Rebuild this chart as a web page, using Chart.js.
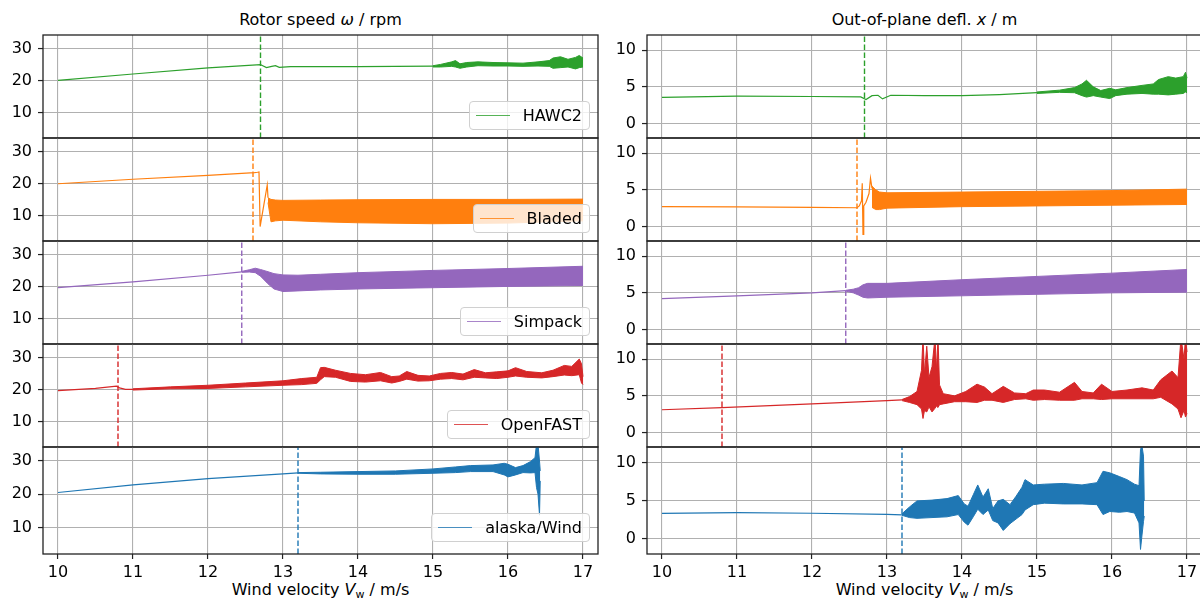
<!DOCTYPE html>
<html>
<head>
<meta charset="utf-8">
<script src="https://cdn.jsdelivr.net/npm/chart.js@4.4.1/dist/chart.umd.min.js"></script>
<style>
  html, body { margin: 0; padding: 0; background: #fff; width: 1200px; height: 603px; overflow: hidden; }
  body { position: relative; font-family: 'DejaVu Sans', sans-serif; color: #000; }
  canvas { position: absolute; }
  .lbl { position: absolute; font-size: 16px; line-height: 1; white-space: nowrap; transform: translate(-50%, -50%); }
  .lbl sub { font-size: 11px; vertical-align: -3px; line-height: 0; }
  .leg { position: absolute; right: 610px; height: 29px; box-sizing: border-box; padding: 0 7px 0 6px;
         border: 1px solid #d0d0d0; border-radius: 4px; background: rgba(255,255,255,0.8);
         font-size: 16px; display: flex; align-items: center; white-space: nowrap; }
  .leg .ln { display: inline-block; width: 34px; height: 0; border-top: 1.5px solid; margin-right: 13px; opacity: 0.8; }
</style>
</head>
<body>
<div class="lbl" style="left:320.5px;top:19.5px">Rotor speed <i>ω</i> / rpm</div>
<div class="lbl" style="left:924.5px;top:19.5px">Out-of-plane defl. <i>x</i> / m</div>
<div class="lbl" style="left:320.5px;top:590px">Wind velocity <i>V</i><sub>w</sub> / m/s</div>
<div class="lbl" style="left:924.5px;top:590px">Wind velocity <i>V</i><sub>w</sub> / m/s</div>
<script>
// axes
const xTicks = [10, 11, 12, 13, 14, 15, 16, 17];
const speedTicks = [10, 20, 30];
const deflTicks = [0, 5, 10];
const xRange = [9.8, 17.2];
const speedRange = [2, 34.2];
const deflRange = [-2, 12.1];

const codes = ['HAWC2', 'Bladed', 'Simpack', 'OpenFAST', 'alaska/Wind'];
const colors = ['#2ca02c', '#ff7f0e', '#9467bd', '#d62728', '#1f77b4'];
// wind speed where the instability starts (dashed lines)
const onsetWind = [12.7, 12.6, 12.45, 10.8, 13.2];

// smooth parts [V, value], oscillating parts [V, low, high]
const hawc2SpeedLine = [[10, 20], [11, 22], [12, 23.9], [12.7, 24.95], [12.73, 24.6], [12.78, 24.0], [12.85, 24.4], [12.9, 24.6], [12.95, 24.1], [13.1, 24.3], [14, 24.3], [15, 24.45]];
const hawc2SpeedBand = [[15.0, 24.2, 24.6], [15.1, 24.2, 25.0], [15.25, 24.4, 25.8], [15.3, 24.2, 26.2], [15.36, 23.8, 25.2], [15.45, 24.2, 25.6], [15.6, 24.6, 25.8], [15.8, 24.5, 25.6], [16.0, 24.5, 25.5], [16.2, 24.4, 25.4], [16.4, 24.5, 25.8], [16.55, 24.4, 26.2], [16.6, 23.8, 27.0], [16.7, 24.0, 27.4], [16.8, 24.2, 26.6], [16.9, 23.6, 27.2], [16.95, 24.0, 27.8], [17.0, 24.2, 27.0]];
const hawc2DeflLine = [[10, 3.55], [11, 3.72], [12, 3.68], [12.65, 3.62], [12.72, 3.27], [12.8, 3.8], [12.88, 3.85], [12.94, 3.35], [13.05, 3.85], [13.5, 3.8], [14, 3.8], [14.5, 3.95], [15, 4.2]];
const hawc2DeflBand = [[15.0, 4.1, 4.3], [15.3, 4.25, 4.55], [15.5, 4.2, 4.9], [15.6, 3.8, 5.4], [15.66, 3.6, 5.9], [15.75, 3.8, 5.0], [15.85, 3.6, 4.5], [15.97, 3.4, 4.8], [16.05, 3.8, 4.6], [16.2, 4.0, 4.9], [16.4, 4.1, 5.2], [16.55, 4.0, 5.4], [16.62, 4.0, 6.0], [16.75, 3.9, 6.4], [16.85, 4.0, 6.2], [16.95, 4.1, 6.4], [16.98, 4.3, 7.0], [17.0, 4.2, 6.2]];

const bladedSpeedLine = [[10, 19.9], [11, 21.3], [12, 22.5], [12.62, 23.4], [12.66, 23.5], [12.68, 23.6], [12.695, 6.5], [12.79, 19.5], [12.8, 15.5]];
const bladedSpeedBand = [[12.8, 14, 15.5], [12.84, 8.0, 15.0], [12.9, 8.3, 14.8], [13.0, 8.5, 14.7], [13.5, 8.0, 14.8], [14.0, 7.7, 14.9], [15.0, 7.4, 15.0], [16.0, 7.6, 15.0], [17.0, 8.3, 15.1]];
const bladedDeflLine = [[10, 2.7], [11, 2.67], [12, 2.6], [12.6, 2.55], [12.63, 2.8], [12.66, 3.5], [12.67, 5.9], [12.68, -1.1], [12.69, 2.8], [12.72, 3.3], [12.76, 4.5], [12.78, 6.6], [12.8, 5.2]];
const bladedDeflBand = [[12.8, 2.6, 5.5], [12.85, 2.3, 5.0], [12.9, 2.3, 4.7], [13.0, 2.5, 4.6], [14.0, 2.7, 4.7], [15.0, 2.8, 4.8], [16.0, 2.9, 4.9], [17.0, 3.0, 5.1]];

const simpackSpeedLine = [[10, 19.6], [11, 21.4], [12, 23.5], [12.45, 24.55]];
const simpackSpeedBand = [[12.45, 24.4, 24.7], [12.55, 24.5, 25.2], [12.63, 24.3, 25.7], [12.7, 23.2, 25.3], [12.8, 20.8, 24.6], [12.88, 19.2, 24.0], [13.0, 18.4, 23.6], [13.2, 18.6, 23.5], [13.5, 18.9, 23.8], [14.0, 19.2, 24.3], [15.0, 19.6, 25.0], [16.0, 20.0, 25.6], [17.0, 20.3, 26.3]];
const simpackDeflLine = [[10, 4.2], [11, 4.6], [12, 5.0], [12.45, 5.3]];
const simpackDeflBand = [[12.45, 5.25, 5.35], [12.55, 5.0, 5.5], [12.62, 4.7, 5.7], [12.68, 4.4, 6.1], [12.74, 4.3, 6.3], [13.0, 4.4, 6.3], [14.0, 4.6, 6.8], [15.0, 4.8, 7.25], [16.0, 5.0, 7.7], [17.0, 5.1, 8.2]];

const openfastSpeedLine = [[10, 19.6], [10.5, 20.3], [10.78, 21.0], [10.82, 20.5], [10.9, 20.0], [11, 20.0]];
const openfastSpeedBand = [[11.0, 19.8, 20.2], [11.5, 20.2, 20.8], [12.0, 20.3, 21.3], [12.5, 20.8, 22.0], [13.0, 21.3, 22.7], [13.25, 21.5, 23.4], [13.45, 21.9, 23.8], [13.5, 23.0, 26.8], [13.55, 24.0, 26.9], [13.7, 23.8, 26.0], [13.9, 22.5, 25.0], [14.1, 22.3, 24.6], [14.3, 22.7, 25.3], [14.45, 22.0, 24.0], [14.55, 22.5, 24.2], [14.65, 23.2, 25.6], [14.8, 22.6, 24.4], [14.95, 22.7, 24.2], [15.1, 23.2, 25.0], [15.25, 23.4, 25.3], [15.4, 23.0, 24.8], [15.55, 23.8, 26.2], [15.7, 23.6, 25.2], [15.85, 23.4, 25.5], [16.0, 23.8, 25.8], [16.1, 24.2, 26.8], [16.25, 23.8, 25.6], [16.45, 23.6, 25.2], [16.6, 24.0, 26.0], [16.75, 24.5, 27.5], [16.85, 24.3, 27.2], [16.95, 24.6, 29.5], [16.98, 22.0, 28.0], [17.0, 21.5, 24.0]];
const openfastDeflLine = [[10, 3.1], [10.8, 3.4], [12, 3.9], [13, 4.35], [13.2, 4.45]];
const openfastDeflBand = [[13.2, 4.35, 4.5], [13.3, 4.1, 4.9], [13.4, 3.8, 5.6], [13.46, 3.2, 8.5], [13.48, 1.9, 13], [13.5, 3.0, 8.0], [13.53, 2.8, 11.8], [13.56, 3.5, 7.5], [13.6, 2.8, 9.0], [13.64, 3.3, 13], [13.66, 3.6, 8.5], [13.68, 3.4, 13], [13.7, 3.8, 6.5], [13.75, 3.9, 5.3], [13.9, 4.2, 5.0], [14.05, 4.2, 5.6], [14.2, 4.1, 6.6], [14.3, 4.4, 6.2], [14.4, 4.4, 5.3], [14.55, 4.1, 6.3], [14.7, 4.5, 5.4], [14.85, 4.6, 5.3], [14.95, 4.4, 5.8], [15.1, 4.5, 5.8], [15.3, 4.4, 5.5], [15.5, 4.4, 6.85], [15.6, 4.6, 5.6], [15.75, 4.6, 5.4], [15.86, 4.5, 6.6], [16.0, 4.6, 5.6], [16.2, 4.6, 5.8], [16.4, 4.6, 6.1], [16.55, 4.6, 5.8], [16.65, 4.8, 7.2], [16.8, 3.9, 8.4], [16.88, 3.2, 7.5], [16.92, 2.0, 13], [16.96, 3.0, 10], [16.98, 2.1, 13], [17.0, 2.6, 11]];

const alaskaSpeedLine = [[10, 20.5], [11, 22.8], [12, 24.7], [13, 26.1], [13.2, 26.4]];
const alaskaSpeedBand = [[13.2, 26.3, 26.5], [13.5, 26.1, 26.6], [14.0, 26.0, 26.8], [14.5, 26.0, 27.0], [15.0, 26.3, 27.6], [15.3, 26.5, 28.2], [15.5, 26.8, 28.6], [15.8, 26.8, 28.8], [15.95, 25.8, 29.3], [16.0, 25.2, 29.0], [16.1, 25.8, 28.0], [16.2, 26.5, 28.6], [16.3, 26.4, 29.8], [16.36, 26.5, 31], [16.38, 22, 35], [16.4, 20, 35], [16.42, 13.7, 30], [16.43, 24, 27]];
const alaskaDeflLine = [[10, 3.35], [11, 3.45], [12, 3.37], [13, 3.22], [13.2, 3.15]];
const alaskaDeflBand = [[13.2, 3.1, 3.3], [13.3, 2.8, 4.2], [13.4, 2.7, 5.0], [13.6, 2.8, 5.1], [13.8, 2.9, 5.3], [13.95, 3.2, 5.7], [14.03, 2.2, 4.6], [14.08, 1.8, 4.3], [14.15, 2.9, 5.8], [14.21, 3.9, 7.1], [14.28, 3.2, 5.5], [14.35, 3.8, 6.6], [14.41, 2.4, 4.0], [14.48, 2.1, 5.0], [14.55, 1.1, 5.2], [14.64, 2.0, 4.5], [14.72, 2.6, 5.6], [14.8, 3.2, 6.8], [14.84, 3.8, 7.8], [14.95, 4.5, 7.1], [15.1, 4.7, 7.2], [15.35, 4.6, 7.3], [15.6, 4.6, 7.1], [15.8, 4.5, 7.4], [15.88, 3.2, 8.9], [15.97, 3.6, 8.7], [16.1, 3.5, 8.2], [16.2, 3.6, 7.8], [16.3, 3.4, 7.2], [16.36, 2.1, 7.0], [16.38, -1.4, 11.8], [16.4, 0.5, 12.2], [16.42, 2.3, 10.9], [16.43, 3, 5]];

const speedLines = [hawc2SpeedLine, bladedSpeedLine, simpackSpeedLine, openfastSpeedLine, alaskaSpeedLine];
const speedBands = [hawc2SpeedBand, bladedSpeedBand, simpackSpeedBand, openfastSpeedBand, alaskaSpeedBand];
const deflLines = [hawc2DeflLine, bladedDeflLine, simpackDeflLine, openfastDeflLine, alaskaDeflLine];
const deflBands = [hawc2DeflBand, bladedDeflBand, simpackDeflBand, openfastDeflBand, alaskaDeflBand];

// page layout
const rowTop = [35, 138, 241, 344, 447];
const rowH = 103;
const cols = [{ x0: 0, left: 43, right: 598 }, { x0: 600, left: 647, right: 1202 }];
const pad = 4;

Chart.defaults.font.family = "'DejaVu Sans', sans-serif";
Chart.defaults.font.size = 16;
Chart.defaults.color = '#000';

const frame = {
  id: 'frame',
  afterDatasetsDraw(chart) {
    const a = chart.chartArea, ctx = chart.ctx;
    ctx.save();
    ctx.strokeStyle = '#222';
    ctx.lineWidth = 1.3;
    ctx.strokeRect(a.left, a.top, a.right - a.left, a.bottom - a.top);
    ctx.restore();
  }
};

function panel(col, row, line, band, onset, color, yRange, yTicks) {
  const c = cols[col];
  const last = row === 4;
  const canvas = document.createElement('canvas');
  canvas.width = c.right - c.x0 + pad;
  canvas.height = rowH + 2 * pad + (last ? 34 : 0);
  canvas.style.left = c.x0 + 'px';
  canvas.style.top = (rowTop[row] - pad) + 'px';
  document.body.appendChild(canvas);

  new Chart(canvas.getContext('2d'), {
    type: 'line',
    data: {
      datasets: [
        { data: line.map(p => ({ x: p[0], y: p[1] })), borderColor: color, borderWidth: 1.2, fill: false },
        { data: band.map(p => ({ x: p[0], y: p[1] })), borderColor: color, borderWidth: 1, fill: false },
        { data: band.map(p => ({ x: p[0], y: p[2] })), borderColor: color, borderWidth: 1, fill: '-1', backgroundColor: color },
        { data: [{ x: onset, y: yRange[0] }, { x: onset, y: yRange[1] }], borderColor: color, borderWidth: 1.4, borderDash: [5.5, 2.5], fill: false }
      ]
    },
    options: {
      responsive: false,
      animation: false,
      events: [],
      layout: { padding: { left: 0, right: pad, top: pad, bottom: last ? 0 : pad } },
      elements: { point: { radius: 0 }, line: { tension: 0 } },
      plugins: { legend: { display: false }, tooltip: { enabled: false } },
      scales: {
        x: {
          type: 'linear', min: xRange[0], max: xRange[1],
          afterBuildTicks: s => { s.ticks = xTicks.map(v => ({ value: v })); },
          afterFit: s => { s.height = last ? 34 : 0; s.paddingLeft = 0; s.paddingRight = 0; },
          ticks: { display: last, padding: 4, maxRotation: 0, autoSkip: false },
          grid: { color: '#b0b0b0', lineWidth: 1.1, drawTicks: last, tickLength: 5, tickColor: '#222', tickWidth: 1.2 },
          border: { display: false }
        },
        y: {
          type: 'linear', min: yRange[0], max: yRange[1],
          afterBuildTicks: s => { s.ticks = yTicks.map(v => ({ value: v })); },
          afterFit: s => { s.width = c.left - c.x0; s.paddingTop = 0; s.paddingBottom = 0; },
          ticks: { padding: 6 },
          grid: { color: '#b0b0b0', lineWidth: 1.1, tickLength: 5, tickColor: '#222', tickWidth: 1.2 },
          border: { display: false }
        }
      }
    },
    plugins: [frame]
  });
}

codes.forEach((name, i) => {
  panel(0, i, speedLines[i], speedBands[i], onsetWind[i], colors[i], speedRange, speedTicks);
  panel(1, i, deflLines[i], deflBands[i], onsetWind[i], colors[i], deflRange, deflTicks);

  const leg = document.createElement('div');
  leg.className = 'leg';
  leg.style.top = (rowTop[i] + rowH - 8 - 29) + 'px';
  leg.innerHTML = '<span class="ln" style="border-color:' + colors[i] + '"></span>' + name;
  document.body.appendChild(leg);
});
</script>
</body>
</html>
